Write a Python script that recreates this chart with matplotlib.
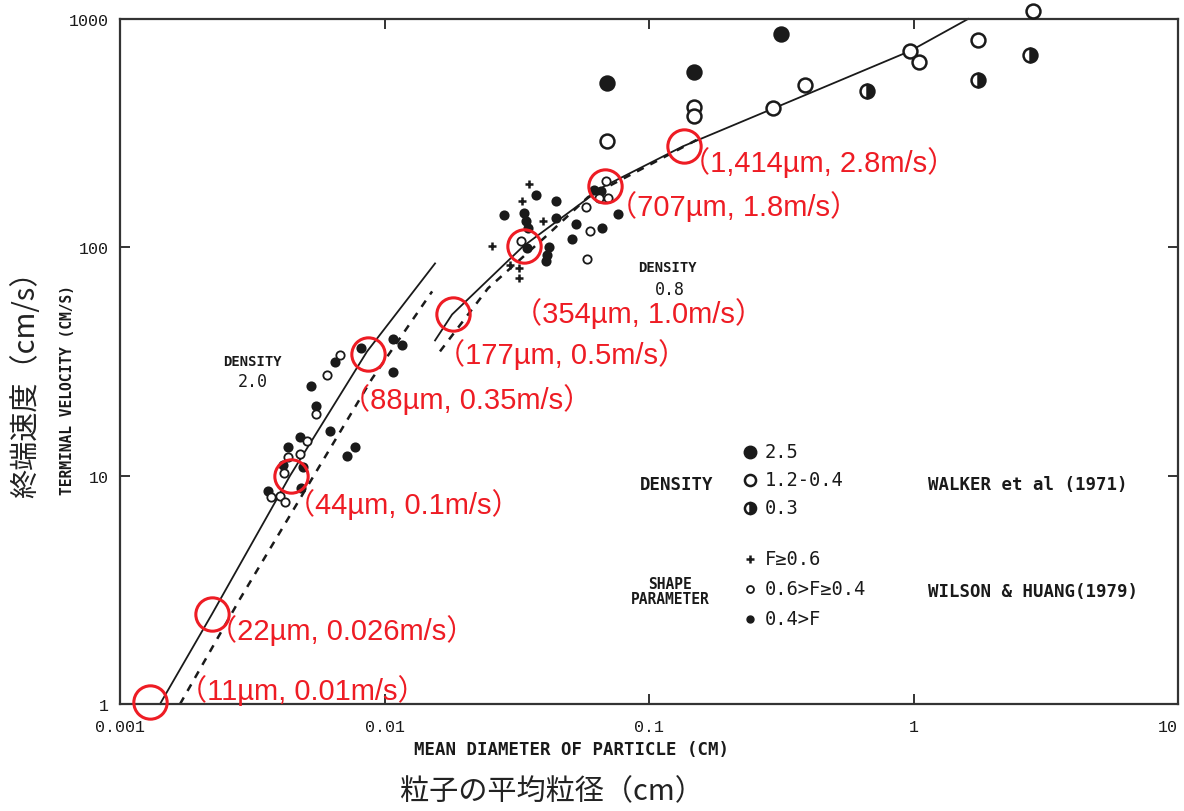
import matplotlib
matplotlib.use('Agg')
import matplotlib.pyplot as plt

plt.rcParams['font.family'] = ['Liberation Sans', 'Noto Sans CJK JP', 'DejaVu Sans']

# curves (diameter cm, terminal velocity cm/s)
d20_solid_x = [0.001416, 0.002228, 0.004393, 0.00859, 0.01552]
d20_solid_y = [1.0, 2.48, 10.0, 35.0, 85.0]
d20_dash_x = [0.001686, 0.002843, 0.005702, 0.00897, 0.01513]
d20_dash_y = [1.0, 2.89, 11.1, 26.6, 64.1]
d08_solid_x = [0.01552, 0.0180, 0.0334, 0.0676, 0.1344, 0.297, 0.970, 1.607]
d08_solid_y = [39.1, 50.8, 101, 185, 277, 407, 724, 1000]
d08_dash_x = [0.0162, 0.0246, 0.0412, 0.0588, 0.1035, 0.156]
d08_dash_y = [35.0, 66.1, 113, 166, 234, 301]

# Walker et al (1971)
walker_25_x = [0.0693, 0.148, 0.316]
walker_25_y = [524, 586, 860]
walker_12_x = [0.0693, 0.148, 0.148, 0.295, 0.390, 0.966, 1.045, 1.748, 2.82]
walker_12_y = [292, 411, 376, 407, 514, 724, 648, 809, 1084]
walker_03_x = [0.669, 1.748, 2.75]
walker_03_y = [483, 540, 695]

# Wilson & Huang (1979)
wh_plus_x = [0.0351, 0.0330, 0.0396, 0.0254, 0.0297, 0.0322, 0.0322]
wh_plus_y = [189, 159, 131, 101, 83.4, 80.9, 73.1]
wh_open_x = [0.00676, 0.00608, 0.00552, 0.00510, 0.00481, 0.00433, 0.00418, 0.00373,
             0.00404, 0.00422, 0.0327, 0.0598, 0.0582, 0.0687, 0.0647, 0.0699, 0.0577]
wh_open_y = [33.6, 27.5, 18.7, 14.2, 12.4, 12.1, 10.3, 8.09,
             8.17, 7.69, 107, 118, 88.6, 195, 164, 164, 150]
wh_fill_x = [0.01072, 0.01159, 0.00818, 0.01072, 0.00651, 0.00525, 0.00552, 0.00620,
             0.00481, 0.00776, 0.00724, 0.00430, 0.00414, 0.00493, 0.00485, 0.00364,
             0.0373, 0.0282, 0.0337, 0.0342, 0.0348, 0.0445, 0.0445, 0.0528, 0.0510,
             0.0664, 0.0764, 0.0345, 0.0418, 0.0411, 0.0407, 0.0620, 0.0658]
wh_fill_y = [39.5, 37.2, 36.4, 28.3, 31.3, 24.6, 20.1, 15.7,
             14.8, 13.4, 12.2, 13.4, 11.1, 10.9, 8.86, 8.6,
             169, 138, 141, 131, 122, 159, 135, 127, 109,
             122, 140, 99, 100, 92.2, 86.8, 178, 176]

# highlighted points (red circles)
mark_x = [0.0013, 0.00223, 0.00441, 0.00862, 0.0181, 0.0336, 0.0682, 0.1357]
mark_y = [1.02, 2.48, 10.0, 34.0, 50.8, 101, 185, 277]
mark_labels = ['（11µm, 0.01m/s）', '（22µm, 0.026m/s）', '（44µm, 0.1m/s）',
               '（88µm, 0.35m/s）', '（177µm, 0.5m/s）', '（354µm, 1.0m/s）',
               '（707µm, 1.8m/s）', '（1,414µm, 2.8m/s）']
mark_offsets = [(20, 9), (-3, -11), (-3, -20), (-19, -32), (-12, -28),
                (-8, -48), (2, -14), (-2, -11)]

x_ticks = [0.001, 0.01, 0.1, 1, 10]
x_ticklabels = ['0.001', '0.01', '0.1', '1', '10']
y_ticks = [1, 10, 100, 1000]
y_ticklabels = ['1', '10', '100', '1000']

RED = '#ee1c24'
INK = '#1a1a1a'
MONO = 'DejaVu Sans Mono'
CJK = ['Noto Sans CJK JP', 'DejaVu Sans']

fig = plt.figure(figsize=(11.84, 8.12), dpi=100)
ax = fig.add_axes([0.1014, 0.1318, 0.8936, 0.8436])
ax.set_xscale('log')
ax.set_yscale('log')
ax.set_xlim(0.001, 10)
ax.set_ylim(1, 1000)

ax.plot(d20_solid_x, d20_solid_y, color=INK, lw=1.3, clip_on=False)
ax.plot(d20_dash_x, d20_dash_y, color=INK, lw=1.8, ls=(0, (3, 3)), clip_on=False)
ax.plot(d08_solid_x, d08_solid_y, color=INK, lw=1.3, clip_on=False)
ax.plot(d08_dash_x, d08_dash_y, color=INK, lw=1.8, ls=(0, (3, 3)), clip_on=False)

big = dict(ls='none', marker='o', ms=10, mec=INK, mew=1.8, clip_on=False, zorder=4)
ax.plot(walker_25_x, walker_25_y, mfc=INK, **big)
ax.plot(walker_12_x, walker_12_y, mfc='white', **big)
ax.plot(walker_03_x, walker_03_y, mfc=INK, mfcalt='white', fillstyle='right', **big)

small = dict(ls='none', marker='o', ms=6, mec=INK, mew=1.3, clip_on=False, zorder=4)
ax.plot(wh_fill_x, wh_fill_y, mfc=INK, **small)
ax.plot(wh_open_x, wh_open_y, mfc='white', **small)
ax.plot(wh_plus_x, wh_plus_y, ls='none', marker='+', ms=6, mew=1.8, color=INK,
        clip_on=False, zorder=4)

ax.plot(mark_x, mark_y, ls='none', marker='o', ms=24, mfc='none', mec=RED, mew=2.2,
        clip_on=False, zorder=6)
for x, y, lab, off in zip(mark_x, mark_y, mark_labels, mark_offsets):
    ax.annotate(lab, xy=(x, y), xytext=off, textcoords='offset points',
                ha='left', va='center', fontsize=21, color=RED, zorder=7)

# density notes
note = dict(family=MONO, fontsize=10, fontweight='bold', color=INK)
ax.text(0.1248, 0.5007, 'DENSITY', transform=ax.transAxes, ha='center', va='center', **note)
ax.text(0.1258, 0.4715, '2.0', transform=ax.transAxes, ha='center', va='center',
        family=MONO, fontsize=12, color=INK)
ax.text(0.517, 0.638, 'DENSITY', transform=ax.transAxes, ha='center', va='center', **note)
ax.text(0.520, 0.606, '0.8', transform=ax.transAxes, ha='center', va='center',
        family=MONO, fontsize=12, color=INK)

# key
kx, tx = 0.5955, 0.6096
key = dict(transform=ax.transAxes, clip_on=False)
ax.plot(kx, 0.3679, ls='none', marker='o', ms=9, mec=INK, mfc=INK, **key)
ax.plot(kx, 0.3270, ls='none', marker='o', ms=8, mec=INK, mfc='white', mew=1.8, **key)
ax.plot(kx, 0.2861, ls='none', marker='o', ms=8, mec=INK, mfc=INK, mfcalt='white',
        fillstyle='right', mew=1.8, **key)
ax.plot(kx, 0.2117, ls='none', marker='+', ms=6, mew=1.8, color=INK, **key)
ax.plot(kx, 0.1679, ls='none', marker='o', ms=5, mec=INK, mfc='white', mew=1.3, **key)
ax.plot(kx, 0.1241, ls='none', marker='o', ms=5, mec=INK, mfc=INK, **key)
keytxt = dict(transform=ax.transAxes, va='center', ha='left', family=MONO,
              fontsize=13.5, color=INK)
ax.text(tx, 0.3679, '2.5', **keytxt)
ax.text(tx, 0.3270, '1.2-0.4', **keytxt)
ax.text(tx, 0.2861, '0.3', **keytxt)
ax.text(tx, 0.2117, 'F≥0.6', **keytxt)
ax.text(tx, 0.1679, '0.6>F≥0.4', **keytxt)
ax.text(tx, 0.1241, '0.4>F', **keytxt)
cap = dict(family=MONO, fontsize=12.5, fontweight='bold', color=INK)
ax.text(0.4915, 0.3212, 'DENSITY', transform=ax.transAxes, ha='left', va='center', **cap)
ax.text(0.5198, 0.165, 'SHAPE\nPARAMETER', transform=ax.transAxes, ha='center', va='center',
        linespacing=1.0, family=MONO, fontsize=10.5, fontweight='bold', color=INK)
ax.text(0.7637, 0.3212, 'WALKER et al (1971)', transform=ax.transAxes, ha='left',
        va='center', **cap)
ax.text(0.7637, 0.165, 'WILSON & HUANG(1979)', transform=ax.transAxes, ha='left',
        va='center', **cap)

# axes frame and ticks
for s in ax.spines.values():
    s.set_linewidth(1.6)
    s.set_color('#333333')
ax.set_xticks(x_ticks)
ax.set_xticklabels(x_ticklabels)
ax.set_yticks(y_ticks)
ax.set_yticklabels(y_ticklabels)
ax.minorticks_off()
ax.tick_params(which='major', direction='in', length=7, width=1.4, color='#333333',
               top=True, right=True, labelsize=12, labelcolor=INK)
ax.tick_params(axis='x', pad=11)
ax.tick_params(axis='y', pad=8)
for lab in ax.get_xticklabels() + ax.get_yticklabels():
    lab.set_family('Liberation Mono')
ax.get_xticklabels()[-1].set_horizontalalignment('right')

fig.text(0.483, 0.0764, 'MEAN DIAMETER OF PARTICLE (CM)', ha='center', va='center',
         family=MONO, fontsize=12.5, fontweight='bold', color=INK)
fig.text(0.466, 0.0246, '粒子の平均粒径（cm）', ha='center', va='center',
         family=CJK, fontsize=21, color='#222222')
fig.text(0.0566, 0.52, 'TERMINAL VELOCITY (CM/S)', rotation=90, ha='center', va='center',
         family=MONO, fontsize=10.5, fontweight='bold', color=INK)
fig.text(0.022, 0.535, '終端速度（cm/s）', rotation=90, ha='center', va='center',
         family=CJK, fontsize=21, color='#222222')

fig.savefig('out.png', dpi=100, facecolor='white')
